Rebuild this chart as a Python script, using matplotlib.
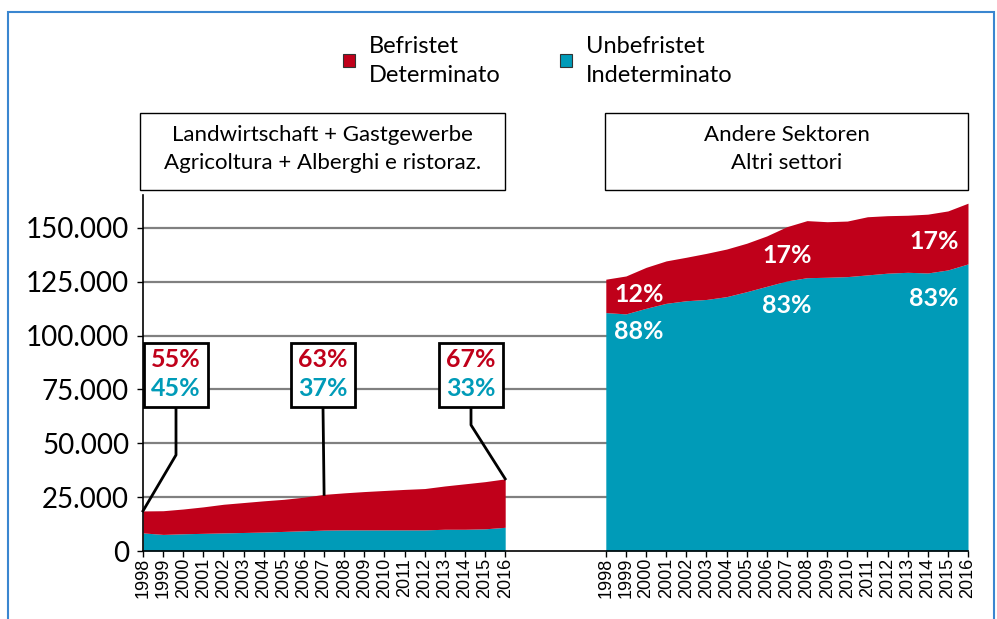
import matplotlib.pyplot as plt
from matplotlib.patches import Rectangle

RED = "#c0001a"
TEAL = "#009bb8"
GRID = "#808080"

years = list(range(1998, 2017))

# Landwirtschaft + Gastgewerbe
agri_unbefristet = [8400, 7700, 8000, 8200, 8400, 8600, 8800, 9100, 9400, 9700,
                    9800, 9800, 9800, 9800, 9800, 10100, 10100, 10300, 11000]
agri_total = [18600, 18700, 19500, 20500, 21700, 22500, 23300, 24000, 25000, 26300,
              27000, 27600, 28100, 28600, 29000, 30200, 31200, 32200, 33500]

# Andere Sektoren
other_unbefristet = [110700, 110100, 112700, 115000, 116200, 116800, 118100, 120400,
                     122900, 125400, 126900, 127100, 127400, 128200, 129000, 129400,
                     129100, 130500, 133300]
other_total = [126200, 127700, 131700, 134700, 136400, 138200, 140200, 142900, 146300,
               150600, 153400, 152900, 153200, 155200, 155700, 155900, 156400, 157900,
               161500]

agri_shares = [("55%", "45%"), ("63%", "37%"), ("67%", "33%")]
agri_share_years = [1998, 2007, 2016]
other_shares = [("12%", "88%"), ("17%", "83%"), ("17%", "83%")]

yticks = [0, 25000, 50000, 75000, 100000, 125000, 150000]
ytick_labels = ["0", "25.000", "50.000", "75.000", "100.000", "125.000", "150.000"]

GAP = 5
x_left = [i for i in range(len(years))]
x_right = [i + len(years) - 1 + GAP for i in range(len(years))]

W, H = 997, 619
plt.rcParams["font.family"] = ["Lato", "DejaVu Sans"]
fig = plt.figure(figsize=(W / 100, H / 100), dpi=100)
fig.patch.set_facecolor("white")


def fx(px):
    return px / W


def fy(py):
    return 1 - py / H


# outer blue frame
fig.patches.append(Rectangle((fx(8), fy(640)), fx(986), fy(12) - fy(640),
                             transform=fig.transFigure, fill=False,
                             edgecolor="#3a86d0", linewidth=1.5))

ax = fig.add_axes([fx(143), fy(551), fx(968) - fx(143), fy(195) - fy(551)])
ax.set_xlim(0, x_right[-1])
ax.set_ylim(0, 165300)

for v in yticks[1:]:
    ax.axhline(v, color=GRID, linewidth=1.6, zorder=0)

ax.fill_between(x_left, 0, agri_unbefristet, color=TEAL, linewidth=0, zorder=2)
ax.fill_between(x_left, agri_unbefristet, agri_total, color=RED, linewidth=0, zorder=2)
ax.fill_between(x_right, 0, other_unbefristet, color=TEAL, linewidth=0, zorder=2)
ax.fill_between(x_right, other_unbefristet, other_total, color=RED, linewidth=0, zorder=2)

for s in ["top", "right"]:
    ax.spines[s].set_visible(False)
ax.spines["left"].set_linewidth(1.2)
ax.spines["bottom"].set_linewidth(1.2)
ax.spines["bottom"].set_zorder(3)

ax.set_yticks(yticks)
ax.set_yticklabels(ytick_labels, fontsize=20)
ax.tick_params(axis="y", length=4, width=1, pad=6)

ax.set_xticks(x_left + x_right)
ax.set_xticklabels([str(y) for y in years] * 2, rotation=90, fontsize=13,
                   family="Liberation Sans")
ax.tick_params(axis="x", length=4, width=1, pad=1)

# share boxes for the left group, with leader lines
box_cx = [176, 323, 471]
elbow_y = [455, 407, 425]
for (red_txt, teal_txt), yr, cx, ey in zip(agri_shares, agri_share_years, box_cx, elbow_y):
    i = years.index(yr)
    dx, dy = ax.transData.transform((x_left[i], agri_total[i]))
    tx, ty = dx / fig.bbox.width, dy / fig.bbox.height
    fig.lines.append(plt.Line2D([fx(cx), fx(cx), tx], [fy(407), fy(ey), ty],
                                transform=fig.transFigure, color="black",
                                linewidth=2, zorder=5))
    fig.patches.append(Rectangle((fx(cx - 32), fy(407)), fx(64), fy(343) - fy(407),
                                 transform=fig.transFigure, facecolor="white",
                                 edgecolor="black", linewidth=2, zorder=6))
    fig.text(fx(cx), fy(359), red_txt, color=RED, fontsize=18, fontweight="bold",
             ha="center", va="center", zorder=7)
    fig.text(fx(cx), fy(389), teal_txt, color=TEAL, fontsize=18, fontweight="bold",
             ha="center", va="center", zorder=7)

# share labels inside the right group
label_x = [1.64, 9.0, 16.3]
label_y_red = [119000, 137200, 143500]
label_y_teal = [102000, 114000, 117400]
for (red_txt, teal_txt), lx, yr_, yt_ in zip(other_shares, label_x, label_y_red, label_y_teal):
    ax.text(x_right[0] + lx, yr_, red_txt, color="white", fontsize=18,
            fontweight="bold", ha="center", va="center", zorder=4)
    ax.text(x_right[0] + lx, yt_, teal_txt, color="white", fontsize=18,
            fontweight="bold", ha="center", va="center", zorder=4)

# group header boxes
headers = [(140, 505, "Landwirtschaft + Gastgewerbe\nAgricoltura + Alberghi e ristoraz."),
           (605, 968, "Andere Sektoren\nAltri settori")]
for x0, x1, txt in headers:
    fig.patches.append(Rectangle((fx(x0), fy(190)), fx(x1 - x0), fy(113) - fy(190),
                                 transform=fig.transFigure, facecolor="white",
                                 edgecolor="black", linewidth=1))
    fig.text(fx((x0 + x1) / 2), fy(149), txt, fontsize=16, ha="center", va="center",
             linespacing=1.5)

# legend
legend_items = [(343, RED, "Befristet\nDeterminato"), (560, TEAL, "Unbefristet\nIndeterminato")]
for lx, col, txt in legend_items:
    fig.patches.append(Rectangle((fx(lx), fy(67)), fx(12), fy(54) - fy(67),
                                 transform=fig.transFigure, facecolor=col,
                                 edgecolor="#333333", linewidth=0.8))
    fig.text(fx(lx + 26), fy(61), txt, fontsize=17, ha="left", va="center",
             linespacing=1.5)

fig.savefig("out.png", dpi=100)
